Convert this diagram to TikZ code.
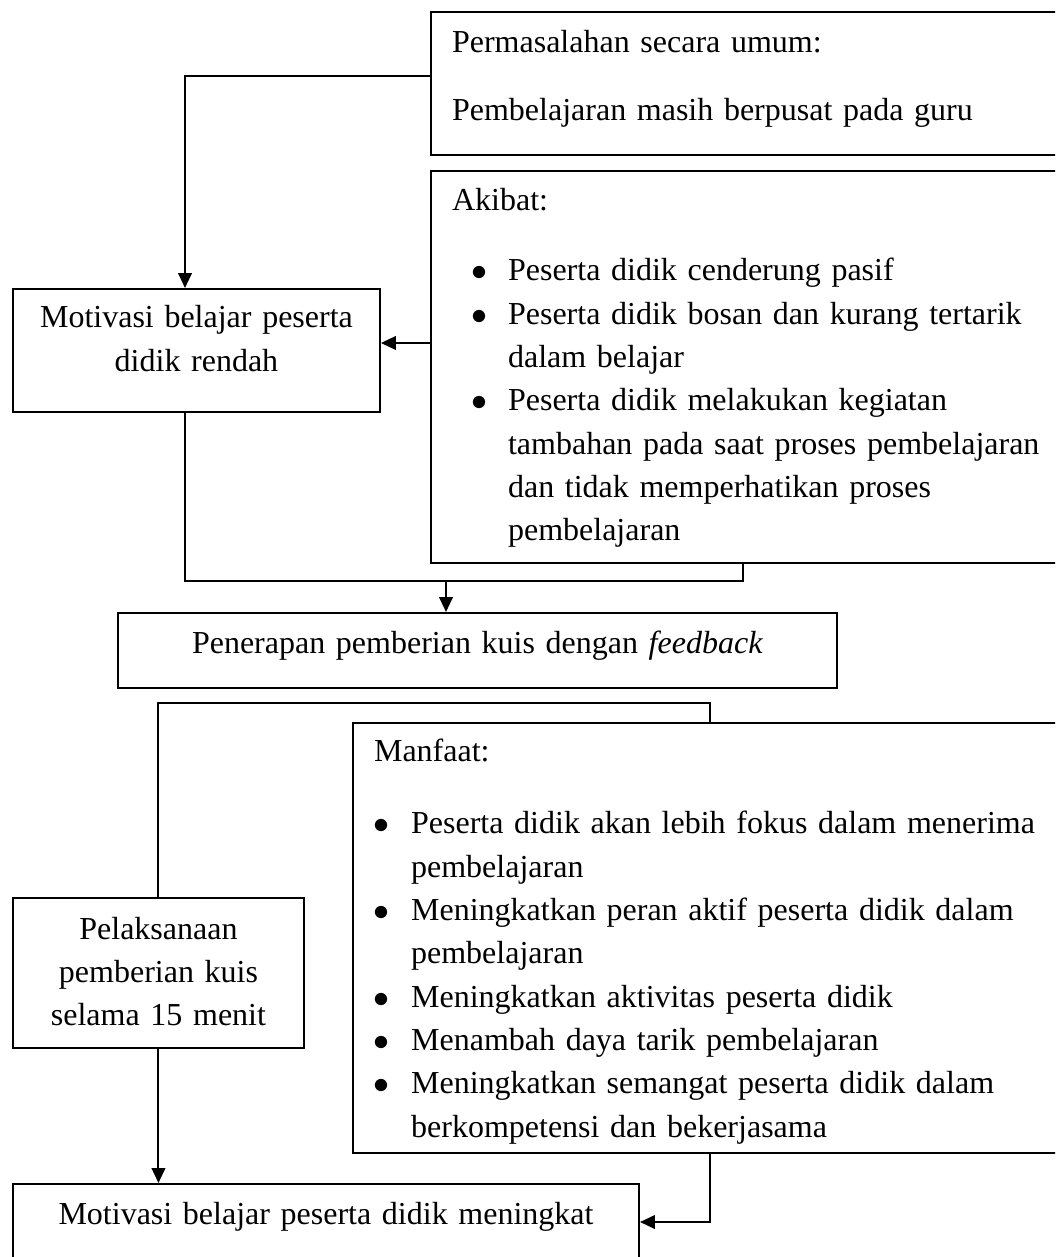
\documentclass[tikz,border=0pt]{standalone}
\usepackage{fontspec}
\setmainfont{Liberation Serif}
\usetikzlibrary{arrows.meta}
% bullets for the two lists
\newcommand{\bulA}{\hspace*{7.1pt}\makebox[13.9pt][l]{$\bullet$}}
\newcommand{\indA}{\hspace*{21pt}}
\newcommand{\bulF}{\hspace*{-0.4pt}\makebox[14.3pt][l]{$\bullet$}}
\newcommand{\indF}{\hspace*{13.9pt}}

\begin{document}
\begin{tikzpicture}[x=0.375pt, y=-0.375pt, line width=0.75pt,
  >={Triangle[length=5.6pt,width=5.1pt]},
  every node/.style={font=\fontsize{12pt}{16.24pt}\selectfont},
  box/.style={draw, rectangle, line width=0.75pt, anchor=north west, inner ysep=0pt},
  leftbox/.style={box, align=left, inner xsep=7.9pt},
  midbox/.style={box, align=center, inner xsep=0pt}]
\useasboundingbox (0,0) rectangle (1055,1257);
\clip (0,0) rectangle (1055,1257);
\node[leftbox, text width=273pt, text height=15.2pt, text depth=38.4pt] (p) at (430,11)
  {Permasalahan secara umum:\\[9.4pt]Pembelajaran masih berpusat pada guru};
\node[leftbox, text width=273pt, text height=15pt, text depth=132pt] (a) at (430,170)
  {Akibat:\\[10pt]
   \bulA Peserta didik cenderung pasif\\
   \bulA Peserta didik bosan dan kurang tertarik\\
   \indA dalam belajar\\
   \bulA Peserta didik melakukan kegiatan\\
   \indA tambahan pada saat proses pembelajaran\\
   \indA dan tidak memperhatikan proses\\
   \indA pembelajaran};
\node[midbox, text width=137.6pt, text height=14.6pt, text depth=31.5pt] (m1) at (12,288)
  {Motivasi belajar peserta\\didik rendah};
\node[midbox, text width=269.6pt, text height=15pt, text depth=13.1pt] (b) at (117,612)
  {Penerapan pemberian kuis dengan \textit{feedback}};
\node[leftbox, text width=290pt, text height=14.25pt, text depth=147pt] (f) at (352,722)
  {Manfaat:\\[11.1pt]
   \bulF\makebox[234.4pt][s]{Peserta didik akan lebih fokus dalam menerima}\\
   \indF pembelajaran\\
   \bulF\makebox[234.4pt][s]{Meningkatkan peran aktif peserta didik dalam}\\
   \indF pembelajaran\\
   \bulF Meningkatkan aktivitas peserta didik\\
   \bulF Menambah daya tarik pembelajaran\\
   \bulF\makebox[234.4pt][s]{Meningkatkan semangat peserta didik dalam}\\
   \indF berkompetensi dan bekerjasama};
\node[midbox, text width=109.1pt, text height=15.4pt, text depth=40.9pt] (l) at (12,897)
  {Pelaksanaan\\pemberian kuis\\selama 15 menit};
\node[midbox, text width=234.75pt, text height=15pt, text depth=28.9pt] (k) at (12,1183)
  {Motivasi belajar peserta didik meningkat};

\coordinate (j1) at (446,581);
\coordinate (j2) at (710,703);
\coordinate (j3) at (710,1222);

\draw[->] ([yshift=2.8pt]p.west) -| ([xshift=-4.3pt]m1.north);
\draw[->] ([yshift=9pt]a.west) -- ([yshift=9pt]a.west -| m1.east);
\draw ([xshift=-4.3pt]m1.south) |- (j1) -| ([xshift=117.4pt]a.south west);
\draw[->] (j1) -- (j1 |- b.north);
\draw (l.north) |- (j2) -- ([xshift=134.25pt]f.north west);
\draw[->] (l.south) -- (l.south |- k.north);
\draw[->] ([xshift=134.25pt]f.south west) -- (j3) -- (j3 -| k.east);
\end{tikzpicture}
\end{document}
